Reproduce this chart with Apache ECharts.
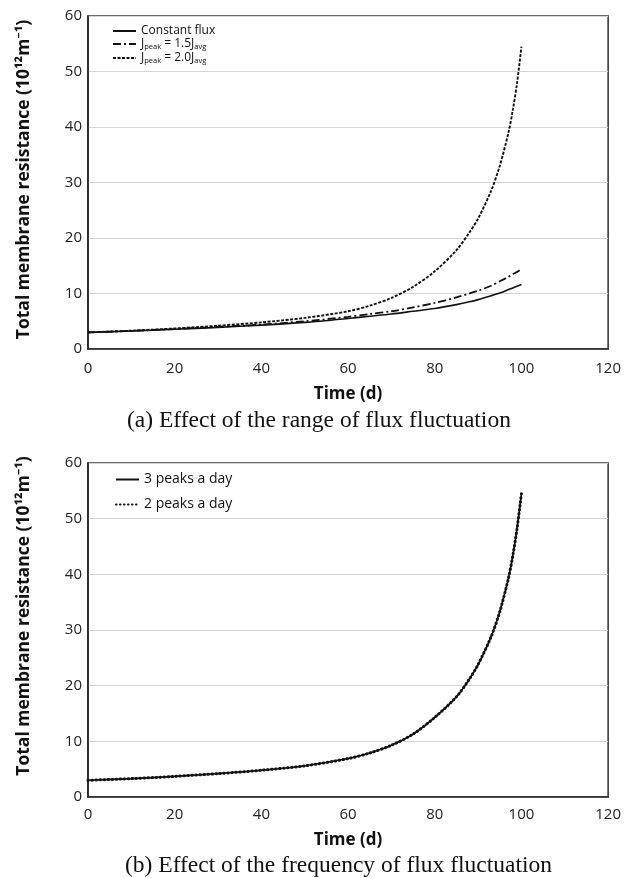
<!DOCTYPE html>
<html>
<head>
<meta charset="utf-8">
<script src="https://cdn.jsdelivr.net/npm/echarts@6/dist/echarts.min.js"></script>
<style>
  html, body { margin: 0; padding: 0; background: #fff; }
  #chart { width: 624px; height: 878px; }
</style>
</head>
<body>
<div id="chart"></div>
<script>
// (a) range of flux fluctuation
const timeA = [0, 10, 20, 30, 40, 50, 60, 65, 70, 75, 80, 85, 88, 90, 93, 95, 97, 98, 99, 100]
const constantFlux = [3.0, 3.25, 3.55, 3.9, 4.3, 4.8, 5.5, 5.9, 6.3, 6.8, 7.3, 8.0, 8.5, 8.9, 9.6, 10.1, 10.7, 11.0, 11.3, 11.6]
const jPeak15 = [3.0, 3.27, 3.6, 3.98, 4.4, 5.0, 5.8, 6.3, 6.8, 7.5, 8.3, 9.3, 10.0, 10.5, 11.4, 12.2, 13.0, 13.5, 13.9, 14.4]
const jPeak20 = [3.0, 3.3, 3.7, 4.2, 4.8, 5.6, 6.8, 7.8, 9.2, 11.2, 14.0, 17.8, 21.0, 23.5, 28.5, 33.0, 39.0, 43.0, 48.0, 54.5]

// (b) frequency of flux fluctuation
const timeB = [0, 10, 20, 30, 40, 50, 60, 65, 70, 75, 80, 85, 88, 90, 93, 95, 97, 98, 99, 100]
const peaks3 = [3.0, 3.3, 3.7, 4.2, 4.8, 5.6, 6.9, 7.9, 9.3, 11.3, 14.3, 18.0, 21.2, 23.8, 28.8, 33.3, 39.3, 43.3, 48.3, 54.5]
const peaks2 = [3.0, 3.3, 3.7, 4.2, 4.8, 5.6, 6.9, 7.9, 9.3, 11.3, 14.3, 18.0, 21.2, 23.8, 28.8, 33.3, 39.3, 43.3, 48.3, 54.5]

const xTicks = [0, 120, 20]
const yTicks = [0, 60, 10]

const pairs = (xs, ys) => xs.map((x, i) => [x, ys[i]])

const font = 'Open Sans, Noto Sans, sans-serif'
const chart = echarts.init(document.getElementById('chart'))

const xAxisOf = (gridIndex, margin, gap) => ({
  type: 'value',
  gridIndex,
  min: xTicks[0],
  max: xTicks[1],
  interval: xTicks[2],
  name: 'Time (d)',
  nameLocation: 'middle',
  nameGap: gap,
  nameTextStyle: { fontFamily: font, fontSize: 17, fontWeight: 'bold', color: '#111' },
  axisLine: { show: true, lineStyle: { color: '#222', width: 1.6 } },
  axisTick: { show: false },
  axisLabel: { fontFamily: font, fontSize: 15, color: '#222', margin },
  splitLine: { show: false }
})

const yAxisOf = (gridIndex, shift) => ({
  type: 'value',
  gridIndex,
  min: yTicks[0],
  max: yTicks[1],
  interval: yTicks[2],
  name: 'Total membrane resistance (10¹²m⁻¹)',
  nameLocation: 'middle',
  nameGap: 55,
  nameTextStyle: { fontFamily: font, fontSize: 17.5, fontWeight: 'bold', color: '#111', padding: [0, 0, 0, shift] },
  axisLine: { show: true, lineStyle: { color: '#222', width: 1.6 } },
  axisTick: { show: false },
  axisLabel: { fontFamily: font, fontSize: 15, color: '#222', margin: 6 },
  splitLine: { show: true, lineStyle: { color: '#d4d4d4', width: 1.2 } }
})

const legendBase = {
  orient: 'vertical',
  itemWidth: 23,
  itemHeight: 8,
  itemStyle: { opacity: 0 },
  inactiveColor: '#111'
}

const option = {
  backgroundColor: '#fff',
  animation: false,
  grid: [
    { left: 88, top: 16, width: 524, height: 333, show: true, borderColor: '#3a3a3a', borderWidth: 1.6, backgroundColor: '#fff' },
    { left: 88, top: 463, width: 524, height: 334, show: true, borderColor: '#3a3a3a', borderWidth: 1.6, backgroundColor: '#fff' }
  ],
  xAxis: [xAxisOf(0, 12, 37), xAxisOf(1, 10, 35)],
  yAxis: [yAxisOf(0, 6), yAxisOf(1, 28)],
  legend: [
    Object.assign({}, legendBase, {
      left: 107,
      top: 20,
      itemGap: 0,
      data: ['Constant flux', 'J15', 'J20'],
      formatter: (name) => {
        if (name === 'J15') return '{t|J}{s|peak}{t| = 1.5J}{s|avg}'
        if (name === 'J20') return '{t|J}{s|peak}{t| = 2.0J}{s|avg}'
        return '{t|' + name + '}'
      },
      textStyle: {
        rich: {
          t: { fontFamily: font, fontSize: 12, color: '#111', lineHeight: 14 },
          s: { fontFamily: font, fontSize: 7.5, color: '#111', lineHeight: 14, padding: [6, 0, 0, 0] }
        }
      }
    }),
    Object.assign({}, legendBase, {
      left: 110,
      top: 465,
      itemGap: 6,
      data: ['3 peaks a day', '2 peaks a day'],
      textStyle: { fontFamily: font, fontSize: 14, color: '#111', lineHeight: 19 }
    })
  ],
  series: [
    {
      name: 'Constant flux', type: 'line', xAxisIndex: 0, yAxisIndex: 0,
      data: pairs(timeA, constantFlux), smooth: 0.3, showSymbol: false, symbol: 'none',
      lineStyle: { color: '#111', width: 1.6, type: 'solid' }, itemStyle: { color: '#111' }
    },
    {
      name: 'J15', type: 'line', xAxisIndex: 0, yAxisIndex: 0,
      data: pairs(timeA, jPeak15), smooth: 0.3, showSymbol: false, symbol: 'none',
      lineStyle: { color: '#111', width: 1.8, type: [8, 3, 2, 3] }, itemStyle: { color: '#111' }
    },
    {
      name: 'J20', type: 'line', xAxisIndex: 0, yAxisIndex: 0,
      data: pairs(timeA, jPeak20), smooth: 0.3, showSymbol: false, symbol: 'none',
      lineStyle: { color: '#111', width: 1.9, type: [3, 1.5] }, itemStyle: { color: '#111' }
    },
    {
      name: '3 peaks a day', type: 'line', xAxisIndex: 1, yAxisIndex: 1,
      data: pairs(timeB, peaks3), smooth: 0.3, showSymbol: false, symbol: 'none',
      lineStyle: { color: '#111', width: 1.6, type: 'solid' }, itemStyle: { color: '#111' }
    },
    {
      name: '2 peaks a day', type: 'line', xAxisIndex: 1, yAxisIndex: 1,
      data: pairs(timeB, peaks2), smooth: 0.3, showSymbol: false, symbol: 'none',
      lineStyle: { color: '#111', width: 3, type: [0.5, 3.5], cap: 'round' }, itemStyle: { color: '#111' }
    }
  ],
  graphic: [
    {
      type: 'text', x: 127, y: 421,
      style: { text: '(a) Effect of the range of flux fluctuation', fontFamily: 'Liberation Serif, serif', fontSize: 23.5, fill: '#111', align: 'left', verticalAlign: 'middle' }
    },
    {
      type: 'text', x: 125, y: 866,
      style: { text: '(b) Effect of the frequency of flux fluctuation', fontFamily: 'Liberation Serif, serif', fontSize: 23.5, fill: '#111', align: 'left', verticalAlign: 'middle' }
    }
  ]
}

chart.setOption(option)
window.addEventListener('resize', () => chart.resize())
</script>
</body>
</html>
